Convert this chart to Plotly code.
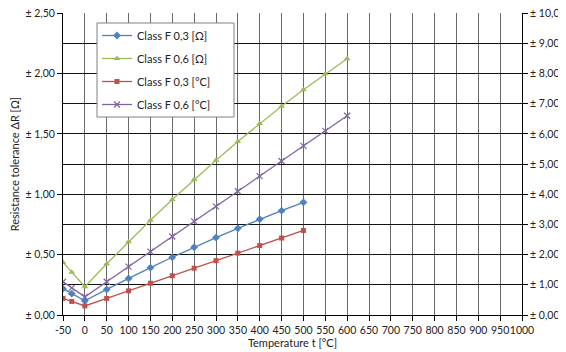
import plotly.graph_objects as go

# Temperatures
t_f03 = [-50, -30, 0, 50, 100, 150, 200, 250, 300, 350, 400, 450, 500]
t_f06 = [-50, -30, 0, 50, 100, 150, 200, 250, 300, 350, 400, 450, 500, 550, 600]

# Resistance tolerance [Ohm] (left axis)
f03_ohm = [0.218, 0.177, 0.117, 0.212, 0.303, 0.392, 0.478, 0.561, 0.641, 0.718, 0.793, 0.864, 0.933]
f06_ohm = [0.436, 0.355, 0.234, 0.424, 0.607, 0.784, 0.956, 1.122, 1.282, 1.437, 1.585, 1.728, 1.865, 1.997, 2.122]

# Temperature tolerance [°C] (right axis)
f03_deg = [0.55, 0.45, 0.30, 0.55, 0.80, 1.05, 1.30, 1.55, 1.80, 2.05, 2.30, 2.55, 2.80]
f06_deg = [1.10, 0.90, 0.60, 1.10, 1.60, 2.10, 2.60, 3.10, 3.60, 4.10, 4.60, 5.10, 5.60, 6.10, 6.60]

names = ["Class F 0,3 [Ω]", "Class F 0,6 [Ω]", "Class F 0,3 [°C]", "Class F 0,6 [°C]"]

x_ticks = list(range(-50, 1001, 50))
x_ticktext = [str(v) for v in x_ticks]
yl_ticks = [0, 0.5, 1.0, 1.5, 2.0, 2.5]
yl_ticktext = ["± 0,00", "± 0,50", "± 1,00", "± 1,50", "± 2,00", "± 2,50"]
yr_ticks = list(range(0, 11))
yr_ticktext = ["± %d,00" % v for v in yr_ticks]

FONT = "Lato"
fig = go.Figure()
fig.add_trace(go.Scatter(x=t_f03, y=f03_ohm, name=names[0], mode="lines+markers",
                         line=dict(color="#4F81BD", width=1.3),
                         marker=dict(symbol="diamond", size=6, color="#4F81BD"),
                         legendgroup="a"))
fig.add_trace(go.Scatter(x=t_f06, y=f06_ohm, name=names[1], mode="lines+markers",
                         line=dict(color="#9BBB59", width=1.3),
                         marker=dict(symbol="triangle-up", size=6, color="#9BBB59"),
                         legendgroup="b"))
fig.add_trace(go.Scatter(x=t_f03, y=f03_deg, name=names[2], mode="lines+markers", yaxis="y2",
                         line=dict(color="#C0504D", width=1.3),
                         marker=dict(symbol="square", size=5, color="#C0504D"),
                         legendgroup="c"))
fig.add_trace(go.Scatter(x=t_f06, y=f06_deg, name=names[3], mode="lines+markers", yaxis="y2",
                         line=dict(color="#8064A2", width=1.3),
                         marker=dict(symbol="x-thin", size=6, color="#8064A2",
                                     line=dict(color="#8064A2", width=1.2)),
                         legendgroup="d"))

# page body has an 8px default margin; offsets compensate for it
fig.update_layout(
    width=566, height=352,
    margin=dict(l=55, r=52, t=5, b=45),
    paper_bgcolor="white", plot_bgcolor="white",
    font=dict(family=FONT, size=11, color="#222222"),
    showlegend=True,
    legend=dict(x=0.074, y=0.9735, xanchor="left", yanchor="top",
                bgcolor="rgba(0,0,0,0)", borderwidth=0,
                font=dict(family=FONT, size=11, color="#222222"),
                traceorder="grouped", tracegroupgap=4, itemwidth=30),
    xaxis=dict(range=[-50, 1000], tickmode="array", tickvals=x_ticks, ticktext=x_ticktext,
               tickangle=0, automargin=False,
               showgrid=True, gridcolor="#6a6a6a", gridwidth=1,
               showline=True, linecolor="black", linewidth=1,
               ticks="outside", ticklen=5, tickcolor="black",
               zeroline=False,
               title=dict(text="Temperature t [°C]", font=dict(size=11), standoff=2),
               tickfont=dict(size=10.5)),
    yaxis=dict(range=[0, 2.5008], tickmode="array", tickvals=yl_ticks, ticktext=yl_ticktext,
               showgrid=False, zeroline=False, automargin=False, ticklabeloverflow="allow",
               showline=True, linecolor="black", linewidth=1,
               ticks="outside", ticklen=5, tickcolor="black",
               title=dict(text="Resistance tolerance ΔR [Ω]", font=dict(size=11), standoff=6),
               tickfont=dict(size=10.5)),
    yaxis2=dict(range=[0, 10.0032], tickmode="array", tickvals=yr_ticks, ticktext=yr_ticktext,
                overlaying="y", side="right", automargin=False, ticklabeloverflow="allow",
                showgrid=True, gridcolor="#111111", gridwidth=1, zeroline=False,
                showline=True, linecolor="black", linewidth=1,
                ticks="outside", ticklen=5, tickcolor="black",
                tickfont=dict(size=10.5)),
)

# Legend frame (Excel-style box)
fig.add_shape(type="rect", xref="paper", yref="paper",
              x0=(97 - 63) / 459, x1=(234 - 63) / 459,
              y0=(315 - 117) / 302, y1=(315 - 23) / 302,
              line=dict(color="#808080", width=1), fillcolor="white", layer="above")

fig.write_html("out.html")
